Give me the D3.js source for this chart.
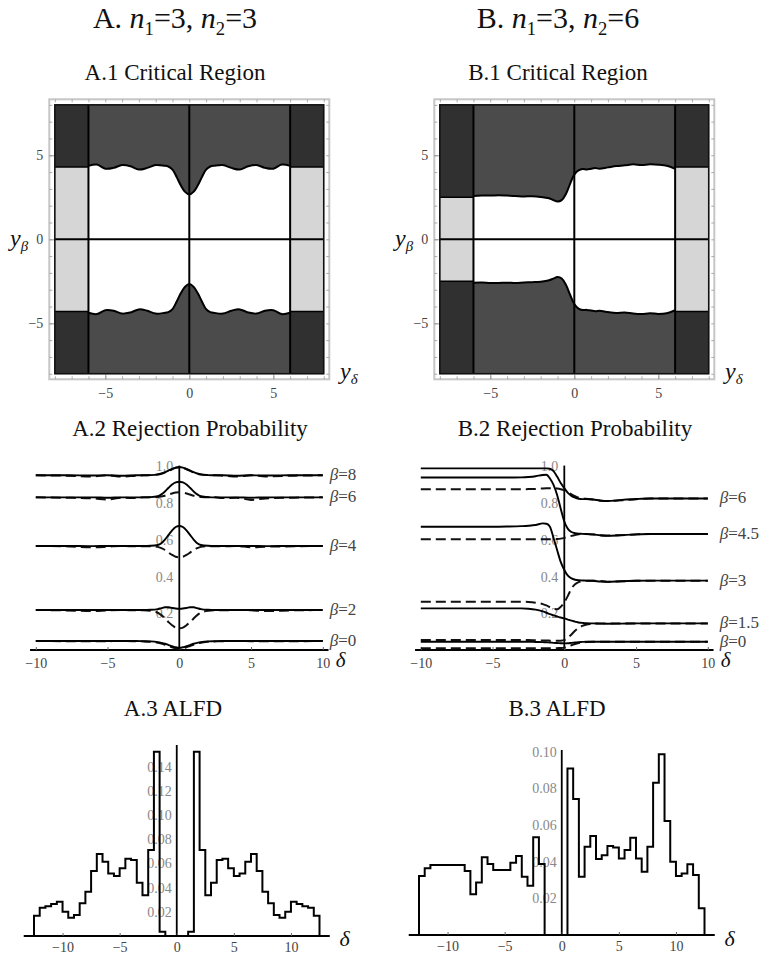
<!DOCTYPE html>
<html>
<head>
<meta charset="utf-8">
<script src="https://cdn.jsdelivr.net/npm/d3@7"></script>
<style>
body { margin: 0; background: #fff; }
text { font-family: "Liberation Serif", "DejaVu Serif", serif; }
</style>
</head>
<body>
<div id="fig"></div>
<script>
// ---- critical region boundaries (y_delta grid, y_beta values) ----
var regionGrid = [-6, -5.5, -5, -4.5, -4, -3.5, -3, -2.5, -2, -1.5, -1.25, -1, -0.75, -0.5, -0.25, 0,
    0.25, 0.5, 0.75, 1, 1.25, 1.5, 2, 2.5, 3, 3.5, 4, 4.5, 5, 5.5, 6];
var upperA = [4.37, 4.45, 4.2, 4.25, 4.42, 4.35, 4.15, 4.25, 4.42, 4.38, 4.33, 4.15, 3.7, 3.2, 2.82, 2.66,
    2.82, 3.2, 3.7, 4.15, 4.33, 4.38, 4.42, 4.25, 4.15, 4.35, 4.42, 4.25, 4.2, 4.45, 4.37];
var lowerA = [-4.37, -4.45, -4.22, -4.25, -4.42, -4.35, -4.17, -4.25, -4.42, -4.38, -4.33, -4.15, -3.7, -3.2, -2.82, -2.66,
    -2.82, -3.2, -3.7, -4.15, -4.33, -4.38, -4.42, -4.25, -4.17, -4.35, -4.42, -4.25, -4.22, -4.45, -4.37];
var upperB = [2.58, 2.6, 2.6, 2.62, 2.6, 2.58, 2.55, 2.56, 2.52, 2.44, 2.34, 2.25, 2.33, 2.7, 3.3, 3.85,
    4.1, 4.18, 4.15, 4.2, 4.24, 4.2, 4.28, 4.36, 4.4, 4.46, 4.42, 4.46, 4.44, 4.38, 4.2];
var lowerB = [-2.58, -2.57, -2.6, -2.6, -2.58, -2.6, -2.57, -2.55, -2.52, -2.44, -2.34, -2.25, -2.33, -2.7, -3.3, -3.85,
    -4.12, -4.2, -4.2, -4.24, -4.28, -4.25, -4.33, -4.38, -4.35, -4.42, -4.45, -4.4, -4.44, -4.4, -4.22];
var columnCutA = [4.3, 4.3];
var columnCutB = [2.5, 4.3];
var regionTicks = [-5, 0, 5];
var regionMinor = [-8, -7, -6, -5, -4, -3, -2, -1, 0, 1, 2, 3, 4, 5, 6, 7, 8];

// ---- rejection probabilities (delta grid) ----
var deltaGrid = [-10, -8, -6, -5, -4, -3, -2.5, -2, -1.5, -1.25, -1, -0.75, -0.5, -0.25, 0,
    0.25, 0.5, 0.75, 1, 1.25, 1.5, 2, 2.5, 3, 4, 5, 6, 8, 10];

var solidA8 = [.952, .952, .951, .952, .95, .952, .952, .953, .957, .962, .969, .978, .987, .994, .997,
    .994, .987, .978, .969, .962, .957, .953, .952, .952, .95, .952, .951, .952, .952];
var dashA8 = [.952, .95, .946, .952, .945, .95, .952, .953, .956, .96, .967, .976, .985, .993, .996,
    .993, .985, .976, .967, .96, .956, .953, .952, .95, .945, .952, .946, .95, .952];
var solidA6 = [.832, .832, .832, .83, .832, .832, .832, .833, .838, .848, .864, .884, .902, .913, .917,
    .913, .902, .884, .864, .848, .838, .833, .832, .832, .832, .83, .832, .832, .832];
var dashA6 = [.832, .83, .826, .82, .83, .828, .832, .832, .834, .837, .841, .847, .853, .858, .86,
    .858, .853, .847, .841, .837, .834, .832, .832, .828, .83, .818, .826, .83, .832];
var solidA4 = [.567, .567, .566, .567, .567, .567, .567, .568, .572, .582, .602, .627, .652, .67, .676,
    .67, .652, .627, .602, .582, .572, .568, .567, .567, .567, .567, .566, .567, .567];
var dashA4 = [.567, .565, .56, .563, .567, .565, .566, .566, .562, .555, .545, .531, .518, .508, .505,
    .508, .518, .531, .545, .555, .562, .566, .566, .565, .567, .56, .563, .565, .567];
var solidA2 = [.218, .218, .218, .218, .218, .218, .218, .219, .223, .228, .233, .233, .229, .226, .225,
    .226, .229, .233, .233, .228, .223, .219, .218, .218, .218, .218, .218, .218, .218];
var dashA2 = [.218, .216, .212, .216, .218, .216, .217, .214, .203, .19, .172, .152, .135, .122, .118,
    .122, .135, .152, .172, .19, .203, .214, .217, .216, .218, .216, .212, .216, .218];
var solidA0 = [.049, .049, .049, .049, .049, .049, .048, .047, .043, .039, .034, .027, .021, .015, .012,
    .015, .021, .027, .034, .039, .043, .047, .048, .049, .049, .049, .049, .049, .049];
var dashA0 = [.049, .048, .047, .048, .049, .048, .047, .045, .04, .035, .029, .022, .015, .009, .006,
    .009, .015, .022, .029, .035, .04, .045, .047, .048, .049, .048, .047, .048, .049];

var solidB6 = [.99, .99, .99, .99, .99, .99, .99, .99, .99, .99, .988, .975, .945, .91, .882,
    .856, .84, .83, .824, .822, .822, .82, .815, .812, .818, .823, .826, .826, .826];
var dashB6 = [.876, .876, .876, .876, .876, .876, .877, .878, .88, .881, .882, .882, .88, .876, .87,
    .86, .848, .838, .83, .826, .824, .82, .814, .812, .816, .822, .826, .826, .826];
var solidB45 = [.94, .94, .94, .94, .94, .941, .943, .947, .954, .955, .935, .9, .845, .77, .70,
    .66, .643, .637, .634, .633, .632, .63, .625, .622, .626, .63, .632, .632, .632];
var dashB45 = [.603, .603, .603, .603, .603, .603, .603, .603, .603, .603, .604, .604, .605, .607, .611,
    .616, .622, .627, .631, .632, .632, .63, .626, .624, .626, .63, .632, .632, .632];
var solidB3 = [.672, .672, .672, .672, .673, .675, .677, .681, .69, .688, .672, .61, .545, .48, .436,
    .405, .39, .383, .38, .379, .378, .377, .373, .371, .375, .377, .378, .378, .378];
var dashB3 = [.263, .263, .263, .263, .263, .263, .262, .258, .25, .243, .233, .225, .222, .235, .26,
    .295, .335, .358, .37, .375, .377, .378, .376, .372, .374, .377, .378, .378, .378];
var solidB15 = [.227, .227, .227, .227, .227, .227, .225, .22, .21, .203, .195, .189, .183, .177, .172,
    .166, .16, .155, .15, .148, .146, .145, .144, .143, .144, .145, .145, .145, .145];
var dashB15 = [.054, .054, .054, .054, .054, .054, .054, .053, .052, .052, .051, .05, .05, .051, .055,
    .068, .085, .105, .12, .131, .138, .143, .145, .145, .145, .145, .145, .145, .145];
var solidB0 = [.045, .045, .045, .045, .045, .045, .045, .044, .043, .042, .041, .039, .038, .037, .036,
    .037, .039, .041, .043, .044, .045, .045, .045, .045, .045, .045, .045, .045, .045];
var dashB0 = [.009, .009, .009, .009, .009, .009, .009, .009, .009, .009, .009, .009, .01, .011, .013,
    .019, .026, .033, .038, .041, .043, .045, .045, .045, .045, .045, .045, .045, .045];

var betaLabelsA = ['8', '6', '4', '2', '0'];
var betaLabelsB = ['6', '4.5', '3', '1.5', '0'];
var probTicks = [0.2, 0.4, 0.6, 0.8, 1.0];
var deltaTicks = [-10, -5, 0, 5, 10];

// ---- ALFD histograms, bins of width 0.5 ----
var histEdges = [-12.5, -12, -11.5, -11, -10.5, -10, -9.5, -9, -8.5, -8, -7.5, -7, -6.5, -6, -5.5, -5,
    -4.5, -4, -3.5, -3, -2.5, -2, -1.5, -1, -0.5, 0, 0.5, 1, 1.5, 2, 2.5, 3, 3.5, 4, 4.5, 5, 5.5, 6,
    6.5, 7, 7.5, 8, 8.5, 9, 9.5, 10, 10.5, 11, 11.5, 12, 12.5];
var histA = [0.0167, 0.0234, 0.0247, 0.0264, 0.0283, 0.020, 0.015, 0.0173, 0.027, 0.0366, 0.0537, 0.0678,
    0.0614, 0.0518, 0.0496, 0.056, 0.0639, 0.0628, 0.044, 0.0338, 0.0711, 0.1525, 0.0035, 0, 0,
    0, 0, 0.0035, 0.1525, 0.0711, 0.0338, 0.044, 0.0628, 0.0639, 0.056, 0.0496, 0.0518, 0.0614, 0.0678,
    0.0537, 0.0366, 0.027, 0.0173, 0.015, 0.020, 0.0283, 0.0264, 0.0247, 0.0234, 0.0167];
var histB = [0.0322, 0.0364, 0.0382, 0.0382, 0.0382, 0.0382, 0.0382, 0.0382, 0.0349, 0.0222, 0.0287,
    0.0424, 0.0387, 0.0355, 0.0355, 0.0355, 0.0395, 0.0431, 0.0318, 0.0269, 0.0533, 0.0387,
    0, 0, 0, 0,
    0.0909, 0.0742, 0.0318, 0.0482, 0.054, 0.0415, 0.0436, 0.0486, 0.0478, 0.0418, 0.0464, 0.0531,
    0.0418, 0.0345, 0.0482, 0.0831, 0.0987, 0.0622, 0.04, 0.0322, 0.0336, 0.0386, 0.0327, 0.0146];
var histTicksA = [0.02, 0.04, 0.06, 0.08, 0.10, 0.12, 0.14];
var histTicksB = [0.02, 0.04, 0.06, 0.08, 0.10];
var histDeltaTicks = [-10, -5, 0, 5, 10];

var svg = d3.select('#fig').append('svg')
    .attr('width', 771)
    .attr('height', 957);

// text with italic / subscript pieces
function richText(g, x, y, size, parts, anchor) {
    var t = g.append('text')
        .attr('x', x).attr('y', y)
        .attr('font-size', size)
        .attr('text-anchor', anchor || 'middle')
        .attr('fill', '#111');
    var shift = 0;
    parts.forEach(function (p) {
        var s = t.append('tspan').text(p[0]);
        var sub = p[1] === 'sub' || p[1] === 'isub';
        var want = sub ? size * 0.22 : 0;
        s.attr('dy', want - shift);
        shift = want;
        if (p[1] === 'i' || p[1] === 'isub') s.attr('font-style', 'italic');
        if (sub) s.attr('font-size', size * 0.62);
    });
    return t;
}

function drawRegion(g, upper, lower, cuts) {
    var x = d3.scaleLinear().domain([-8.33, 8.33]).range([49.3, 329.3]);
    var y = d3.scaleLinear().domain([-8.33, 8.33]).range([379.3, 99.3]);

    // grey frame with ticks
    g.append('rect')
        .attr('x', x(-8.33)).attr('y', y(8.33))
        .attr('width', x(8.33) - x(-8.33)).attr('height', y(-8.33) - y(8.33))
        .attr('fill', 'none').attr('stroke', '#c6c6c6').attr('stroke-width', 2);

    [['left', -8.33], ['right', 8.33]].forEach(function (s) {
        var ax = s[0] === 'left' ? d3.axisLeft(y) : d3.axisRight(y);
        g.append('g').attr('transform', 'translate(' + x(s[1]) + ',0)')
            .call(ax.tickValues(regionMinor).tickSize(-3).tickFormat(''))
            .attr('color', '#aaa')
            .select('.domain').remove();
    });
    [['bottom', -8.33], ['top', 8.33]].forEach(function (s) {
        var ax = s[0] === 'bottom' ? d3.axisBottom(x) : d3.axisTop(x);
        g.append('g').attr('transform', 'translate(0,' + y(s[1]) + ')')
            .call(ax.tickValues(regionMinor).tickSize(-3).tickFormat(''))
            .attr('color', '#aaa')
            .select('.domain').remove();
    });

    var yl = g.append('g').attr('transform', 'translate(' + x(-8.33) + ',0)')
        .call(d3.axisLeft(y).tickValues(regionTicks).tickSize(-5).tickPadding(6))
        .attr('color', '#999')
        .attr('font-size', 14).attr('font-family', '"Liberation Serif", serif');
    yl.select('.domain').remove();
    yl.selectAll('text').attr('fill', '#444');

    var xl = g.append('g').attr('transform', 'translate(0,' + y(-8.33) + ')')
        .call(d3.axisBottom(x).tickValues(regionTicks).tickSize(-5).tickPadding(9))
        .attr('color', '#999')
        .attr('font-size', 14).attr('font-family', '"Liberation Serif", serif');
    xl.select('.domain').remove();
    xl.selectAll('text').attr('fill', '#444');

    // rejection region
    g.append('rect')
        .attr('x', x(-8)).attr('y', y(8))
        .attr('width', x(8) - x(-8)).attr('height', y(-8) - y(8))
        .attr('fill', '#4b4b4b');

    var pts = regionGrid.map(function (d, i) {
        return {d: d, lo: lower[i], hi: upper[i]};
    });
    var curve = d3.curveCatmullRom.alpha(0.5);
    g.append('path').datum(pts)
        .attr('d', d3.area().curve(curve)
            .x(function (p) { return x(p.d); })
            .y0(function (p) { return y(p.lo); })
            .y1(function (p) { return y(p.hi); }))
        .attr('fill', '#fff');

    // side columns
    [[-8, -6, cuts[0]], [6, 8, cuts[1]]].forEach(function (c) {
        g.append('rect')
            .attr('x', x(c[0])).attr('y', y(8))
            .attr('width', x(c[1]) - x(c[0])).attr('height', y(-8) - y(8))
            .attr('fill', '#303030');
        g.append('rect')
            .attr('x', x(c[0])).attr('y', y(c[2]))
            .attr('width', x(c[1]) - x(c[0])).attr('height', y(-c[2]) - y(c[2]))
            .attr('fill', '#d6d6d6');
        [c[2], -c[2]].forEach(function (v) {
            g.append('line')
                .attr('x1', x(c[0])).attr('x2', x(c[1]))
                .attr('y1', y(v)).attr('y2', y(v))
                .attr('stroke', '#000').attr('stroke-width', 1.6);
        });
    });

    [-6, 6, 0].forEach(function (v) {
        g.append('line')
            .attr('x1', x(v)).attr('x2', x(v))
            .attr('y1', y(8)).attr('y2', y(-8))
            .attr('stroke', '#000').attr('stroke-width', 2);
    });
    g.append('line')
        .attr('x1', x(-8)).attr('x2', x(8))
        .attr('y1', y(0)).attr('y2', y(0))
        .attr('stroke', '#000').attr('stroke-width', 2);

    [upper, lower].forEach(function (arr) {
        g.append('path').datum(arr)
            .attr('d', d3.line().curve(curve)
                .x(function (v, i) { return x(regionGrid[i]); })
                .y(function (v) { return y(v); }))
            .attr('fill', 'none').attr('stroke', '#000').attr('stroke-width', 2);
    });

    g.append('rect')
        .attr('x', x(-8)).attr('y', y(8))
        .attr('width', x(8) - x(-8)).attr('height', y(-8) - y(8))
        .attr('fill', 'none').attr('stroke', '#111').attr('stroke-width', 1.6);

    richText(g, 10, 246, 24, [['y', 'i'], ['β', 'isub']], 'start');
    richText(g, 340, 379, 24, [['y', 'i'], ['δ', 'isub']], 'start');
}

function drawRejection(g, solids, dashes, labels, labelDx) {
    var x = d3.scaleLinear().domain([-10, 10]).range([35.8, 322.8]);
    var y = d3.scaleLinear().domain([0, 1]).range([650, 466.5]);

    g.append('line')
        .attr('x1', x(-10.4)).attr('x2', x(10.4))
        .attr('y1', y(0)).attr('y2', y(0))
        .attr('stroke', '#000').attr('stroke-width', 1.8);
    g.append('line')
        .attr('x1', x(0)).attr('x2', x(0))
        .attr('y1', y(0)).attr('y2', y(1.005))
        .attr('stroke', '#000').attr('stroke-width', 1.8);

    var xa = g.append('g').attr('transform', 'translate(0,' + y(0) + ')')
        .call(d3.axisBottom(x).tickValues(deltaTicks).tickSize(-3).tickPadding(8))
        .attr('color', '#666')
        .attr('font-size', 14).attr('font-family', '"Liberation Serif", serif');
    xa.select('.domain').remove();
    xa.selectAll('text').attr('fill', '#444');

    var ya = g.append('g').attr('transform', 'translate(' + x(0) + ',0)')
        .call(d3.axisLeft(y).tickValues(probTicks).tickSize(0).tickPadding(6).tickFormat(d3.format('.1f')))
        .attr('color', '#888')
        .attr('font-size', 14).attr('font-family', '"Liberation Serif", serif');
    ya.select('.domain').remove();

    var line = d3.line().curve(d3.curveMonotoneX)
        .x(function (v, i) { return x(deltaGrid[i]); })
        .y(function (v) { return y(v); });

    dashes.forEach(function (arr) {
        g.append('path').datum(arr)
            .attr('d', line)
            .attr('fill', 'none').attr('stroke', '#111')
            .attr('stroke-width', 2).attr('stroke-dasharray', '10,5');
    });
    solids.forEach(function (arr) {
        g.append('path').datum(arr)
            .attr('d', line)
            .attr('fill', 'none').attr('stroke', '#000').attr('stroke-width', 1.9);
    });

    solids.forEach(function (arr, k) {
        richText(g, x(10) + labelDx, y(arr[arr.length - 1]) + 5, 17,
            [['β', 'i'], ['=' + labels[k], 'r']], 'start').attr('fill', '#444');
    });

    richText(g, x(10) + 13, 667, 21, [['δ', 'i']], 'start');
}

function drawHist(g, vals, yMax, yBottom, yTop, yTicks) {
    var x = d3.scaleLinear().domain([-12.5, 12.5]).range([34, 319.5]);
    var y = d3.scaleLinear().domain([0, yMax]).range([yBottom, yTop]);

    g.append('line')
        .attr('x1', x(-13.4)).attr('x2', x(13.4))
        .attr('y1', y(0)).attr('y2', y(0))
        .attr('stroke', '#000').attr('stroke-width', 1.8);
    g.append('line')
        .attr('x1', x(0)).attr('x2', x(0))
        .attr('y1', y(0)).attr('y2', y(yMax))
        .attr('stroke', '#000').attr('stroke-width', 1.8);

    var xa = g.append('g').attr('transform', 'translate(0,' + y(0) + ')')
        .call(d3.axisBottom(x).tickValues(histDeltaTicks).tickSize(-3).tickPadding(6))
        .attr('color', '#666')
        .attr('font-size', 14).attr('font-family', '"Liberation Serif", serif');
    xa.select('.domain').remove();
    xa.selectAll('text').attr('fill', '#444');

    var ya = g.append('g').attr('transform', 'translate(' + x(0) + ',0)')
        .call(d3.axisLeft(y).tickValues(yTicks).tickSize(0).tickPadding(5).tickFormat(d3.format('.2f')))
        .attr('color', '#888')
        .attr('font-size', 14).attr('font-family', '"Liberation Serif", serif');
    ya.select('.domain').remove();

    var pts = [{e: histEdges[0], v: 0}];
    vals.forEach(function (v, i) { pts.push({e: histEdges[i], v: v}); });
    pts.push({e: histEdges[histEdges.length - 1], v: vals[vals.length - 1]});
    pts.push({e: histEdges[histEdges.length - 1], v: 0});

    g.append('path').datum(pts)
        .attr('d', d3.line().curve(d3.curveStepAfter)
            .x(function (p) { return x(p.e); })
            .y(function (p) { return y(p.v); }))
        .attr('fill', 'none').attr('stroke', '#000').attr('stroke-width', 2)
        .attr('stroke-linejoin', 'miter');

    richText(g, x(12.5) + 20, 946, 22, [['δ', 'i']], 'start');
}

// ---- panel A ----
var gA = svg.append('g');
richText(gA, 175, 28, 30, [['A. ', 'r'], ['n', 'i'], ['1', 'sub'], ['=3, ', 'r'], ['n', 'i'], ['2', 'sub'], ['=3', 'r']]);
richText(gA, 175, 80, 23, [['A.1 Critical Region', 'r']]);
drawRegion(gA, upperA, lowerA, columnCutA);
richText(gA, 190, 436, 23, [['A.2 Rejection Probability', 'r']]);
drawRejection(gA, [solidA8, solidA6, solidA4, solidA2, solidA0],
    [dashA8, dashA6, dashA4, dashA2, dashA0], betaLabelsA, 7);
richText(gA, 173, 716, 23, [['A.3 ALFD', 'r']]);
drawHist(gA, histA, 0.158, 936, 745, histTicksA);

// ---- panel B ----
var gB = svg.append('g').attr('transform', 'translate(385,0)');
richText(gB, 173, 28, 30, [['B. ', 'r'], ['n', 'i'], ['1', 'sub'], ['=3, ', 'r'], ['n', 'i'], ['2', 'sub'], ['=6', 'r']]);
richText(gB, 173, 80, 23, [['B.1 Critical Region', 'r']]);
drawRegion(gB, upperB, lowerB, columnCutB);
richText(gB, 190, 436, 23, [['B.2 Rejection Probability', 'r']]);
drawRejection(gB, [solidB6, solidB45, solidB3, solidB15, solidB0],
    [dashB6, dashB45, dashB3, dashB15, dashB0], betaLabelsB, 12);
richText(gB, 172, 716, 23, [['B.3 ALFD', 'r']]);
drawHist(gB, histB, 0.101, 935, 750, histTicksB);
</script>
</body>
</html>
